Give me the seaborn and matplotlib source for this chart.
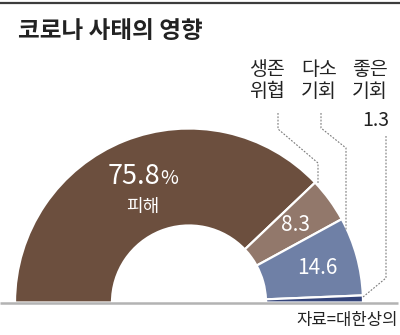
import matplotlib
matplotlib.use("Agg")
import matplotlib.pyplot as plt
import seaborn as sns

# ---- data ----
categories = ["피해", "생존 위협", "다소 기회", "좋은 기회"]
values = [75.8, 8.3, 14.6, 1.3]
value_labels = ["75.8", "8.3", "14.6", "1.3"]
colors = ["#6c4f3e", "#92786b", "#6f80a6", "#34447a"]

title = "코로나 사태의 영향"
source = "자료=대한상의"

sns.set_theme(style="white")
plt.rcParams["font.family"] = ["Noto Sans CJK KR", "DejaVu Sans"]

W, H = 400, 335
fig = plt.figure(figsize=(W / 100, H / 100), dpi=100)
ax = fig.add_axes([0, 0, 1, 1])

def Y(py):
    return H - py

cx, cy = 189, Y(302.5)
R, width = 174, 97

# half donut: visible values + hidden half
vals = values + [sum(values)]
cols = colors + ["none"]
wedges, _ = ax.pie(vals, colors=cols, startangle=180, counterclock=False,
                   center=(cx, cy), radius=R, frame=True,
                   wedgeprops=dict(width=width, edgecolor="white", linewidth=1.6))
wedges[-1].set_edgecolor("none")

ax.set_xlim(0, W)
ax.set_ylim(0, H)
ax.set_aspect("equal")
ax.axis("off")

# top rule and baseline
ax.plot([0, W], [Y(3), Y(3)], color="#3c3c3c", lw=1.6, solid_capstyle="butt", zorder=5)
ax.plot([0, 398], [Y(302.5), Y(302.5)], color="#b3b3b3", lw=1.8, solid_capstyle="butt", zorder=5)

# title
ax.text(18, Y(31), title, fontsize=17, fontweight="bold", color="#222222",
        ha="left", va="center")

# values inside
ax.text(160, Y(177), value_labels[0], fontsize=19.5, color="white",
        ha="right", va="center")
ax.text(160, Y(179), "%", fontsize=14, color="white", ha="left", va="center")
ax.text(143, Y(207), categories[0], fontsize=13, color="white", ha="center", va="center")
ax.text(296, Y(225), value_labels[1], fontsize=15, color="white", ha="center", va="center")
ax.text(317, Y(268), value_labels[2], fontsize=15, color="white", ha="center", va="center")

# outer labels
lbl_kw = dict(fontsize=14, color="#222222", ha="center", va="center", linespacing=1.05)
ax.text(266.5, Y(80.5), "생존\n위협", **lbl_kw)
ax.text(319, Y(80.5), "다소\n기회", **lbl_kw)
ax.text(370, Y(80.5), "좋은\n기회", **lbl_kw)
ax.text(389, Y(120), value_labels[3], fontsize=14, color="#222222", ha="right", va="center")

# leader lines
ld = dict(color="#7a7a7a", lw=0.8, ls=(0, (1.6, 1.4)), zorder=4)
ax.plot([278, 278, 318, 318], [Y(113), Y(129), Y(163), Y(184)], **ld)
ax.plot([321, 321, 346, 346], [Y(113), Y(128), Y(148), Y(230)], **ld)
ax.plot([386, 386, 363], [Y(136), Y(278), Y(297)], **ld)

# source
ax.text(398, Y(320), source, fontsize=12, color="#222222", ha="right", va="center")

fig.savefig("out.png", dpi=100)
